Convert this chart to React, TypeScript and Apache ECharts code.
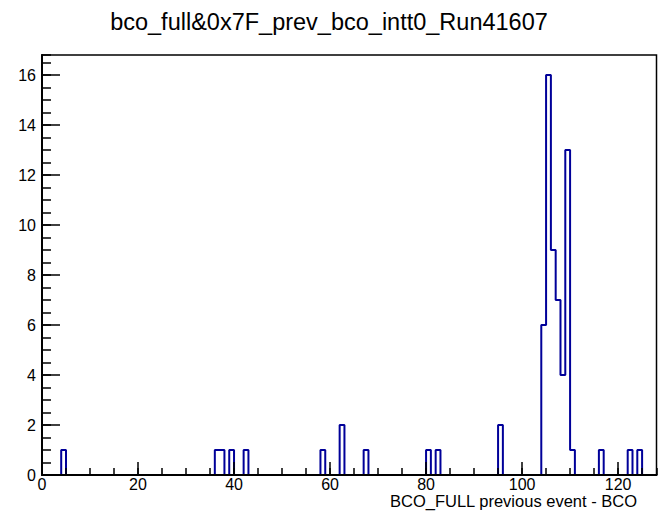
import React, { useEffect, useRef } from "react";
import * as echarts from "echarts";

const titleText = "bco_full&0x7F_prev_bco_intt0_Run41607";
const xAxisTitle = "BCO_FULL previous event - BCO";
const nBins = 128;
const xMin = 0;
const xMax = 128;
const yMax = 16.8;
// Non-empty bins: lower edge of bin (bin width 1) and its count
const binLow = [4, 36, 37, 39, 42, 58, 62, 67, 80, 82, 95, 104, 105, 106, 107, 108, 109, 110, 116, 122, 124];
const counts = [1, 1, 1, 1, 1, 1, 2, 1, 1, 1, 2, 6, 16, 9, 7, 4, 13, 1, 1, 1, 1];

export default function App() {
  const ref = useRef<HTMLDivElement>(null);
  useEffect(() => {
    if (!ref.current) return;
    const chart = echarts.init(ref.current, null, { renderer: "svg" });
    const full: number[] = new Array(nBins).fill(0);
    binLow.forEach((b, i) => {
      full[b - xMin] = counts[i];
    });
    const stepData: [number, number][] = full.map((v, i) => [xMin + i, v]);
    stepData.push([xMax, full[nBins - 1]]);
    const font = "'Liberation Sans', Arial, Helvetica, sans-serif";
    chart.setOption({
      animation: false,
      backgroundColor: "#ffffff",
      title: {
        text: titleText,
        left: "center",
        top: 10,
        padding: 0,
        textStyle: { fontFamily: font, fontSize: 23.5, fontWeight: "normal", color: "#000", lineHeight: 24 },
      },
      grid: {
        left: 42,
        right: 1.5,
        top: 55,
        bottom: 38,
        show: true,
        borderColor: "#000",
        borderWidth: 1.5,
        backgroundColor: "transparent",
      },
      xAxis: [
        {
          type: "value",
          min: xMin,
          max: xMax,
          interval: 20,
          position: "bottom",
          z: 5,
          axisLine: { show: true, lineStyle: { color: "#000", width: 2 } },
          axisTick: { show: true, inside: true, length: 13, lineStyle: { color: "#000", width: 1.5 } },
          axisLabel: { show: true, showMaxLabel: false, margin: 1, color: "#000", fontFamily: font, fontSize: 16, lineHeight: 16 },
          splitLine: { show: false },
        },
        {
          type: "value",
          min: xMin,
          max: xMax,
          interval: 5,
          position: "bottom",
          z: 5,
          axisLine: { show: false },
          axisTick: { show: true, inside: true, length: 7, lineStyle: { color: "#000", width: 1.5 } },
          axisLabel: { show: false },
          splitLine: { show: false },
        },
      ],
      yAxis: [
        {
          type: "value",
          min: 0,
          max: yMax,
          interval: 2,
          position: "left",
          z: 5,
          axisLine: { show: true, lineStyle: { color: "#000", width: 2 } },
          axisTick: { show: true, inside: true, length: 18, lineStyle: { color: "#000", width: 1.5 } },
          axisLabel: { show: true, showMaxLabel: false, margin: 6, color: "#000", fontFamily: font, fontSize: 16 },
          splitLine: { show: false },
        },
        {
          type: "value",
          min: 0,
          max: yMax,
          interval: 0.5,
          position: "left",
          offset: 0,
          z: 5,
          axisLine: { show: false },
          axisTick: { show: true, inside: true, length: 9, lineStyle: { color: "#000", width: 1.5 } },
          axisLabel: { show: false },
          splitLine: { show: false },
        },
      ],
      series: [
        {
          type: "line",
          xAxisIndex: 0,
          yAxisIndex: 0,
          step: "end",
          showSymbol: false,
          symbol: "none",
          data: stepData,
          lineStyle: { color: "#000099", width: 2 },
          z: 2,
        },
      ],
      graphic: [
        {
          type: "text",
          x: 637,
          y: 500.5,
          style: {
            text: xAxisTitle,
            fill: "#000",
            font: `16.5px ${font}`,
            align: "right",
            verticalAlign: "middle",
          },
        },
      ],
    });
    return () => chart.dispose();
  }, []);
  return <div ref={ref} style={{ position: "fixed", left: 0, top: 0, width: 658, height: 513 }} />;
}
